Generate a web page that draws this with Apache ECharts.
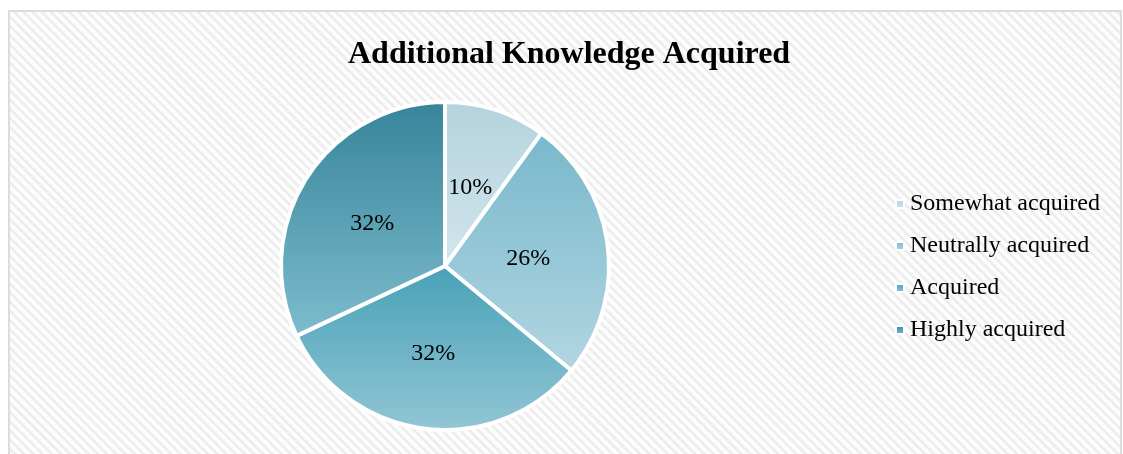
<!DOCTYPE html>
<html>
<head>
<meta charset="utf-8">
<script src="https://cdn.jsdelivr.net/npm/echarts@6/dist/echarts.min.js"></script>
<style>
  html, body { margin: 0; padding: 0; background: #ffffff; }
  #wrap { position: relative; width: 1123px; height: 454px; overflow: hidden; background: #ffffff; }
  #frame {
    position: absolute; left: 8px; top: 10px; width: 1110px; height: 460px;
    border: 2px solid #dcdcdc;
    background: repeating-linear-gradient(45deg, #fefefe 0px, #fafafa 1.5px, #e8e8e8 3.2px, #fafafa 5px, #fefefe 6.5px);
  }
  #chart { position: absolute; left: 0; top: 0; width: 1123px; height: 454px; }
</style>
</head>
<body>
<div id="wrap">
  <div id="frame"></div>
  <div id="chart"></div>
</div>
<script>
const titleText = 'Additional Knowledge Acquired';
const categories = ['Somewhat acquired', 'Neutrally acquired', 'Acquired', 'Highly acquired'];
const values = [10, 26, 32, 32];
const topColors = ['#b4d3dd', '#78b8cb', '#48a1b7', '#37849a'];
const bottomColors = ['#d2e5ec', '#b2d6e2', '#92c6d5', '#7dbccd'];

function grad(i) {
  return new echarts.graphic.LinearGradient(0, 0, 0, 1, [
    { offset: 0, color: topColors[i] },
    { offset: 1, color: bottomColors[i] }
  ]);
}

const chart = echarts.init(document.getElementById('chart'), null, { renderer: 'canvas' });
chart.setOption({
  backgroundColor: 'transparent',
  animation: false,
  title: {
    text: titleText,
    left: 348,
    top: 39,
    padding: 0,
    textStyle: { fontFamily: '"Liberation Serif", "Times New Roman", serif', fontWeight: 'bold', fontSize: 32, color: '#000000' }
  },
  legend: {
    orient: 'vertical',
    left: 895,
    top: 192,
    itemWidth: 8,
    itemHeight: 8,
    itemGap: 18,
    icon: 'rect',
    padding: 0,
    data: categories,
    textStyle: { fontFamily: '"Liberation Serif", "Times New Roman", serif', fontSize: 24, lineHeight: 24, color: '#000000', padding: [0, 0, 0, 1] }
  },
  series: [{
    type: 'pie',
    center: [445, 266],
    radius: [0, 164],
    startAngle: 90,
    clockwise: true,
    label: {
      show: true,
      position: 'inside',
      formatter: '{d}%',
      fontFamily: '"Liberation Serif", "Times New Roman", serif',
      fontSize: 24,
      color: '#000000',
      offset: [-1, 3]
    },
    labelLine: { show: false },
    itemStyle: { borderColor: '#ffffff', borderWidth: 4 },
    emphasis: { disabled: true },
    data: categories.map((c, i) => ({ name: c, value: values[i], itemStyle: { color: grad(i) } }))
  }]
});
</script>
</body>
</html>
